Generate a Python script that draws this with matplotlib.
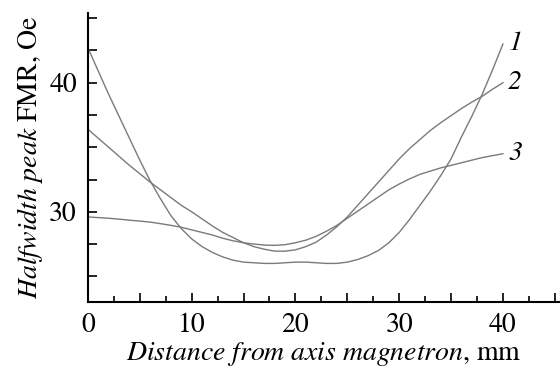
import matplotlib
matplotlib.use("Agg")
import matplotlib.pyplot as plt
from matplotlib.ticker import FixedLocator

plt.rcParams['font.family'] = 'STIXGeneral'
plt.rcParams['mathtext.fontset'] = 'stix'

# distance from magnetron axis, mm (read every 1 mm)
dist = list(range(0, 41))

# halfwidth of FMR peak, Oe
curve1 = [42.7, 40.9, 39.1, 37.4, 35.7, 34.0, 32.4, 31.0, 29.7, 28.7,
          27.9, 27.3, 26.85, 26.5, 26.25, 26.1, 26.05, 26.0, 26.0, 26.05,
          26.1, 26.1, 26.05, 26.0, 26.0, 26.1, 26.3, 26.6, 27.0, 27.6,
          28.4, 29.4, 30.5, 31.6, 32.8, 34.1, 35.8, 37.4, 39.1, 41.0, 43.0]
curve2 = [36.4, 35.7, 35.0, 34.3, 33.6, 32.95, 32.3, 31.7, 31.1, 30.5,
          30.0, 29.45, 28.9, 28.4, 28.0, 27.6, 27.3, 27.1, 26.95, 26.95,
          27.05, 27.3, 27.65, 28.2, 28.85, 29.6, 30.5, 31.4, 32.3, 33.2,
          34.1, 34.9, 35.6, 36.3, 36.9, 37.45, 38.0, 38.5, 38.95, 39.5, 40.0]
curve3 = [29.6, 29.55, 29.5, 29.43, 29.35, 29.28, 29.2, 29.08, 28.95, 28.8,
          28.6, 28.4, 28.2, 27.95, 27.75, 27.6, 27.5, 27.42, 27.4, 27.45,
          27.6, 27.8, 28.1, 28.5, 28.95, 29.5, 30.05, 30.6, 31.15, 31.7,
          32.15, 32.55, 32.9, 33.15, 33.4, 33.6, 33.8, 34.0, 34.2, 34.35, 34.5]

labels = ['1', '2', '3']

fig = plt.figure(figsize=(5.6, 3.73), dpi=100)
ax = fig.add_axes([0.157, 0.19, 0.843, 0.775])

for ys, lab in zip([curve1, curve2, curve3], labels):
    ax.plot(dist, ys, color='#7a7a7a', lw=1.0)
    ax.text(dist[-1] + 0.5, ys[-1], lab, fontsize=20, style='italic',
            ha='left', va='center')

ax.set_xlim(0, 45.5)
ax.set_ylim(23.0, 45.4)

ax.spines['top'].set_visible(False)
ax.spines['right'].set_visible(False)
for s in ['left', 'bottom']:
    ax.spines[s].set_linewidth(1.5)

ax.set_xticks([0, 5, 10, 15, 20, 25, 30, 35, 40, 45])
ax.set_xticklabels(['0', '', '10', '', '20', '', '30', '', '40', ''])
ax.xaxis.set_minor_locator(FixedLocator([2.5, 7.5, 12.5, 17.5, 22.5, 27.5, 32.5, 37.5, 42.5]))
ax.yaxis.set_major_locator(FixedLocator([30, 40]))
ax.yaxis.set_minor_locator(FixedLocator([25, 27.5, 32.5, 35, 37.5, 42.5, 45]))

ax.tick_params(which='major', direction='in', length=6.5, width=1.2,
               labelsize=20, pad=8)
ax.tick_params(which='minor', direction='in', length=4, width=1.2)
ax.tick_params(axis='y', which='minor', length=6.5)

ax.set_xlabel(r'$\it{Distance\ from\ axis\ magnetron}$, mm', fontsize=20, labelpad=1)
ax.set_ylabel(r'$\it{Halfwidth\ peak}$ FMR, Oe', fontsize=20, labelpad=3)

fig.savefig('out.png', dpi=100)
